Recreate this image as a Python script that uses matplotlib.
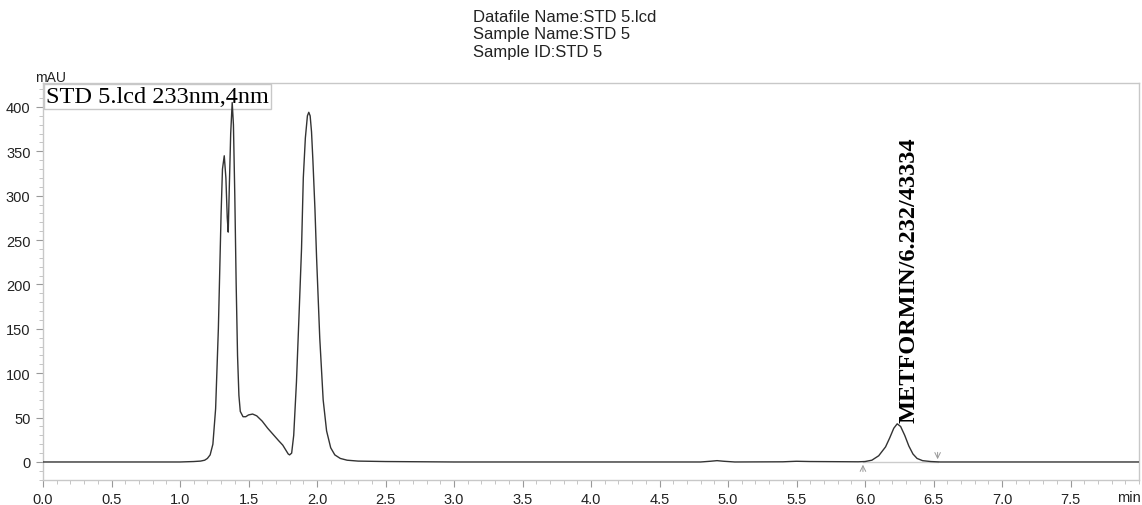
import matplotlib
matplotlib.use("Agg")
import matplotlib.pyplot as plt
from matplotlib.ticker import MultipleLocator

# Chromatogram trace (time in min, absorbance in mAU)
time_min = [0.0, 0.5, 1.0, 1.10, 1.15, 1.18, 1.20, 1.22, 1.24, 1.26, 1.28, 1.30, 1.31,
            1.323, 1.335, 1.345, 1.352, 1.36, 1.37, 1.381, 1.39, 1.40, 1.41, 1.42,
            1.43, 1.44, 1.46, 1.48, 1.50, 1.53, 1.56, 1.60, 1.64, 1.68, 1.72, 1.75,
            1.77, 1.79, 1.80, 1.815, 1.83, 1.85, 1.87, 1.887, 1.90, 1.915, 1.93, 1.94,
            1.95, 1.96, 1.97, 1.985, 1.997, 2.02, 2.045, 2.07, 2.10, 2.13, 2.17, 2.22, 2.3,
            2.5, 3.0, 4.0, 4.8, 4.87, 4.92, 4.97, 5.05, 5.4, 5.5, 5.6, 5.95,
            6.00, 6.05, 6.10, 6.15, 6.18, 6.21, 6.235, 6.26, 6.29, 6.32, 6.35,
            6.38, 6.42, 6.48, 6.55, 8.0]
signal_mau = [0, 0, 0, 0.5, 1, 2, 4, 8, 20, 60, 150, 280, 330,
              345, 320, 275, 259, 310, 370, 405, 380, 300, 200, 120,
              75, 57, 51, 51, 53, 54, 52, 46, 38, 31, 24, 19,
              14, 9, 8, 10, 30, 90, 170, 240, 320, 365, 390, 394,
              390, 372, 340, 285, 230, 140, 70, 35, 16, 8, 4, 2, 1,
              0.5, 0, 0, 0, 0.8, 1.5, 0.8, 0, 0.2, 0.8, 0.5, 0.2,
              0.5, 2, 7, 17, 27, 38, 43, 40, 30, 18, 9,
              4, 1.5, 0.5, 0, 0]

peak_label = "METFORMIN/6.232/43334"
peak_time = 6.232
peak_height = 43
peak_start = 5.985
peak_end = 6.53

x_ticks = [0.0, 0.5, 1.0, 1.5, 2.0, 2.5, 3.0, 3.5, 4.0, 4.5, 5.0, 5.5, 6.0, 6.5, 7.0, 7.5]
y_ticks = [0, 50, 100, 150, 200, 250, 300, 350, 400]

title_lines = ["Datafile Name:STD 5.lcd", "Sample Name:STD 5", "Sample ID:STD 5"]
legend_text = "STD 5.lcd 233nm,4nm"

W, H = 1142, 506
fig = plt.figure(figsize=(W / 100, H / 100), dpi=100)
ax = fig.add_axes([43 / W, 25 / H, 1096 / W, 397 / H])

spine_col = "#c8c8c8"
for s in ax.spines.values():
    s.set_color(spine_col)
    s.set_linewidth(1.0)

ax.plot(time_min, signal_mau, color="#333333", lw=1.0, zorder=3)

# integration baseline and markers
ax.plot([peak_start, peak_end], [0, 0], color="#cccccc", lw=1.0, zorder=2)
ax.annotate("", xy=(peak_start, 0), xytext=(peak_start, -14),
            arrowprops=dict(arrowstyle="->", color="#999999", lw=0.7), zorder=2)
ax.annotate("", xy=(peak_end, 0), xytext=(peak_end, 14),
            arrowprops=dict(arrowstyle="->", color="#999999", lw=0.7), zorder=2)

ax.text(peak_time + 0.09, peak_height + 2, peak_label, rotation=90,
        ha="center", va="bottom", fontsize=17.5, fontweight="bold",
        family="Liberation Serif", color="black")

ax.set_xlim(0, 8.0)
ax.set_ylim(-20.3, 427)
ax.set_xticks(x_ticks)
ax.set_xticklabels([f"{v:.1f}" for v in x_ticks])
ax.set_yticks(y_ticks)
ax.xaxis.set_minor_locator(MultipleLocator(0.1))
ax.yaxis.set_minor_locator(MultipleLocator(10))
ax.tick_params(which="major", length=5, width=0.8, color="#999999",
               labelsize=10.5, labelcolor="#222222", pad=4)
ax.tick_params(which="minor", length=3, width=0.6, color="#bbbbbb")
for lab in ax.get_xticklabels() + ax.get_yticklabels():
    lab.set_family("Liberation Sans")

ax.text(7.93, -17 / 397, "min", transform=ax.get_xaxis_transform(), ha="center",
        va="center", fontsize=10.5, family="Liberation Sans", color="#222222")

fig.text(35 / W, 1 - 78 / H, "mAU", ha="left", va="center", fontsize=10,
         family="Liberation Sans", color="#222222")

ax.text(0.003, 0.992, legend_text, transform=ax.transAxes, ha="left", va="top",
        fontsize=17.5, family="Liberation Serif", color="black", zorder=1,
        bbox=dict(boxstyle="square,pad=0.08", fc="none", ec="#c8c8c8", lw=1.0))

for i, line in enumerate(title_lines):
    fig.text(473 / W, 1 - (18 + 17 * i) / H, line, ha="left", va="center",
             fontsize=12, family="Liberation Sans", color="#222222")

fig.savefig("out.png", dpi=100)
